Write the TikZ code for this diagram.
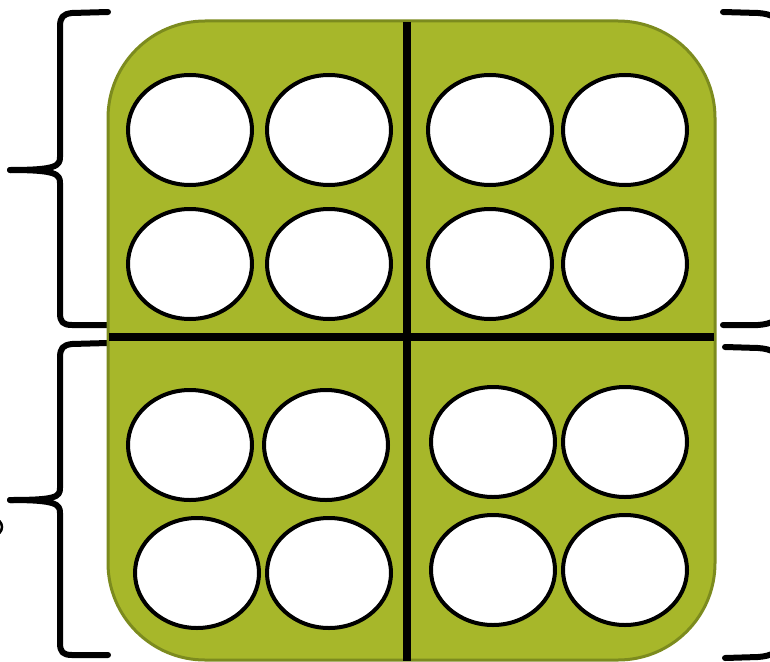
\documentclass[tikz,border=0pt]{standalone}
\usetikzlibrary{shapes.geometric}
\definecolor{boardfill}{HTML}{A7B72A}
\definecolor{boardedge}{HTML}{7C8B1E}
\tikzset{
  bracestroke/.style={line width=6pt, line cap=round, line join=round},
  holenode/.style={ellipse, draw=black, fill=white, line width=4pt, minimum width=124pt, minimum height=110pt, inner sep=0pt},
  divider/.style={line width=7.5pt},
  board/.style={fill=boardfill, draw=boardedge, line width=3pt, rounded corners=97pt}
}
\begin{document}
\begin{tikzpicture}[x=1pt,y=-1pt]
\useasboundingbox (0,0) rectangle (770,661);
\clip (0,0) rectangle (770,661);
% left braces
\draw[bracestroke] (108,12) -- (72,13) .. controls (63,14) and (60,17) .. (60,27) -- (60,157) .. controls (60,166) and (56,170) .. (10,170);
\draw[bracestroke] (10,170) .. controls (56,170) and (60,174) .. (60,183) -- (60,313) .. controls (60,322) and (63,325) .. (72,325) -- (108,325);
\draw[bracestroke] (108,343) -- (72,344) .. controls (63,345) and (60,348) .. (60,358) -- (60,488) .. controls (60,497) and (56,500) .. (10,500);
\draw[bracestroke] (10,500) .. controls (56,500) and (60,504) .. (60,513) -- (60,643) .. controls (60,652) and (63,655) .. (72,655) -- (108,655);
% right braces
\draw[bracestroke] (723,12) -- (758,13) .. controls (772,14) and (780,18) .. (780,30) -- (780,157) .. controls (780,166) and (784,170) .. (830,170);
\draw[bracestroke] (830,170) .. controls (784,170) and (780,174) .. (780,183) -- (780,308) .. controls (780,320) and (772,324) .. (758,325) -- (723,325);
\draw[bracestroke] (725,347) -- (758,348) .. controls (772,349) and (780,353) .. (780,365) -- (780,490) .. controls (780,499) and (784,503) .. (830,503);
\draw[bracestroke] (830,503) .. controls (784,503) and (780,507) .. (780,516) -- (780,640) .. controls (780,652) and (772,656) .. (758,657) -- (725,658);
% stray mark at left edge
\draw[line width=2.5pt] (-6,527) circle (8);
% board
\draw[board] (108,21) rectangle (715,660);
\coordinate (vt) at (407,22);
\coordinate (vb) at (407,661);
\coordinate (hl) at (109,337);
\coordinate (hr) at (714,337);
\draw[divider] (vt) -- (vb);
\draw[divider] (hl) -- (hr);
% holes: top-left
\node[holenode] (a1) at (190,130) {};
\node[holenode] (a2) at (329,130) {};
\node[holenode] (a3) at (190,264) {};
\node[holenode] (a4) at (329,264) {};
% top-right
\node[holenode] (b1) at (490,130) {};
\node[holenode] (b2) at (625,130) {};
\node[holenode] (b3) at (490,264) {};
\node[holenode] (b4) at (625,264) {};
% bottom-left
\node[holenode] (c1) at (190,445) {};
\node[holenode] (c2) at (326,445) {};
\node[holenode] (c3) at (197,573) {};
\node[holenode] (c4) at (329,573) {};
% bottom-right
\node[holenode] (d1) at (493,442) {};
\node[holenode] (d2) at (625,442) {};
\node[holenode] (d3) at (493,570) {};
\node[holenode] (d4) at (625,570) {};
\end{tikzpicture}
\end{document}
